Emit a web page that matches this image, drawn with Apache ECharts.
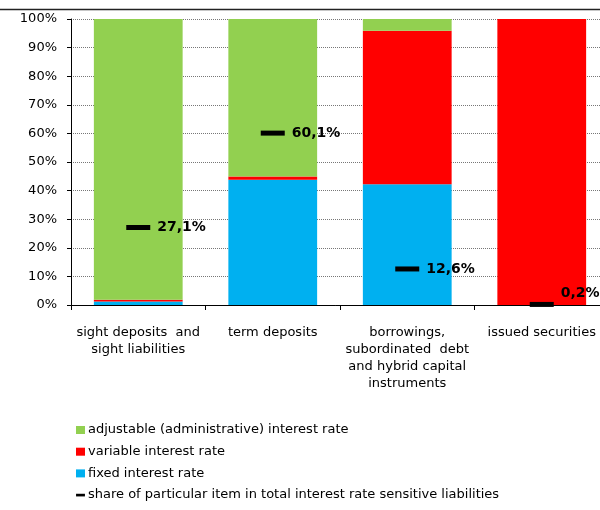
<!DOCTYPE html>
<html><head><meta charset="utf-8">
<script src="https://cdn.jsdelivr.net/npm/echarts@6/dist/echarts.min.js"></script>
<style>html,body{margin:0;padding:0;background:#fff}#c{width:600px;height:510px}</style>
</head><body><div id="c"></div>
<script>
const categories = ["sight deposits  and\nsight liabilities", "term deposits", "borrowings,\nsubordinated  debt\nand hybrid capital\ninstruments", "issued securities"];
const fixedRate = [1.2, 43.8, 42.2, 0];
const variableRate = [0.6, 1.1, 53.7, 100];
const adjustableRate = [98.2, 55.1, 4.1, 0];
const shareOfTotal = [27.1, 60.1, 12.6, 0.2];
const yTicks = [0, 10, 20, 30, 40, 50, 60, 70, 80, 90, 100];
const seriesNames = ["adjustable (administrative) interest rate", "variable interest rate", "fixed interest rate", "share of particular item in total interest rate sensitive liabilities"];

const FONT = "DejaVu Sans";
const chart = echarts.init(document.getElementById('c'));
const dashIcon = 'path://M0,0L0,0M0,3L10,3L10,6L0,6ZM0,9L0,9';
chart.setOption({
  animation: false,
  textStyle: {fontFamily: FONT},
  graphic: [{type: 'line', shape: {x1: 0, y1: 9.5, x2: 600, y2: 9.5}, style: {stroke: '#222', lineWidth: 1.5}}],
  grid: {left: 71, top: 19, width: 538, height: 286, containLabel: false, outerBoundsMode: 'none'},
  legend: {
    orient: 'vertical', left: 76, top: 422, padding: 0, itemWidth: 9, itemHeight: 8, itemGap: 5.7,
    textStyle: {fontFamily: FONT, fontSize: 13, lineHeight: 16, color: '#000', padding: [0, 0, 0, -2]},
    data: [
      {name: seriesNames[0], icon: 'rect'},
      {name: seriesNames[1], icon: 'rect'},
      {name: seriesNames[2], icon: 'rect'},
      {name: seriesNames[3], icon: dashIcon}
    ]
  },
  xAxis: {
    type: 'category', data: categories,
    axisLine: {lineStyle: {color: '#000', width: 1}},
    axisTick: {show: true, alignWithLabel: false, length: 5, lineStyle: {color: '#000'}},
    axisLabel: {interval: 0, margin: 19, fontSize: 13, color: '#000', lineHeight: 17, fontFamily: FONT, hideOverlap: false}
  },
  yAxis: {
    type: 'value', min: 0, max: 100, interval: 10,
    axisLine: {show: true, lineStyle: {color: '#000'}},
    axisTick: {show: true, length: 4, lineStyle: {color: '#000'}},
    axisLabel: {formatter: v => yTicks.includes(v) ? v + '%' : '', fontSize: 13, color: '#000', margin: 14, fontFamily: FONT},
    splitLine: {lineStyle: {type: [1, 1], color: '#777', width: 1}}
  },
  series: [
    {name: seriesNames[2], type: 'bar', stack: 's', data: fixedRate, barCategoryGap: '34%', itemStyle: {color: '#00B0F0'}},
    {name: seriesNames[1], type: 'bar', stack: 's', data: variableRate, itemStyle: {color: '#FF0000'}},
    {name: seriesNames[0], type: 'bar', stack: 's', data: adjustableRate, itemStyle: {color: '#92D050'}},
    {name: seriesNames[3], type: 'scatter', symbol: 'rect', symbolSize: [24, 5], z: 10,
      itemStyle: {color: '#000', opacity: 1},
      label: {show: true, position: 'right', distance: 7, fontFamily: FONT, fontSize: 14, fontWeight: 'bold', color: '#000',
        formatter: p => p.value[1].toFixed(1).replace('.', ',') + '%'},
      data: shareOfTotal.map((v, i) => i === 3 ? {value: [i, v], label: {offset: [0, -11]}} : {value: [i, v]})
    }
  ]
});
</script></body></html>
